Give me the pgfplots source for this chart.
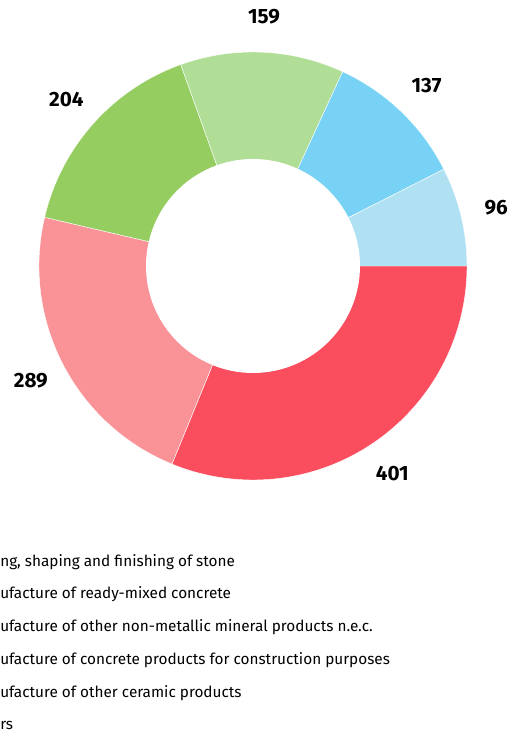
\documentclass[border=0pt]{standalone}
\usepackage{pgfplots}
\pgfplotsset{compat=1.18}
\usepackage{fontspec}
\setmainfont{Fira Sans}

\definecolor{cRed}{RGB}{250,77,94}
\definecolor{cPink}{RGB}{250,147,151}
\definecolor{cGreen}{RGB}{149,205,97}
\definecolor{cLGreen}{RGB}{177,222,150}
\definecolor{cBlue}{RGB}{120,210,245}
\definecolor{cLBlue}{RGB}{175,225,243}

% values, clockwise from 3 o'clock
\def\slices{401/cRed,289/cPink,204/cGreen,159/cLGreen,137/cBlue,96/cLBlue}
\newcommand\labfont{\fontsize{15.5pt}{17pt}\selectfont\bfseries}
\newcommand\legfont{\fontsize{11.5pt}{13pt}\selectfont}

\begin{document}
\begin{tikzpicture}
\path[use as bounding box, clip] (0,0) rectangle (381.75pt,549.75pt);

\gdef\total{0}
\foreach \v/\c in \slices {\pgfmathsetmacro\t{\total+\v}\xdef\total{\t}}

\begin{axis}[x=0.75pt, y=0.75pt, xmin=0, xmax=509, ymin=0, ymax=733,
  hide axis, clip=false, anchor=origin, at={(0,0)}]
\gdef\cum{0}
\foreach \v/\c in \slices {
  \pgfmathsetmacro\sa{-360*(\cum/\total)}
  \pgfmathsetmacro\ea{-360*((\cum+\v)/\total)}
  \pgfmathsetmacro\ma{(\sa+\ea)/2}
  \pgfmathsetmacro\lx{253+250*cos(\ma)}
  \pgfmathsetmacro\ly{467+250*sin(\ma)}
  \edef\tmp{\noexpand\fill[\c, draw=white, line width=0.3pt] (axis cs:253,467) -- ++(\sa:160.5pt)
      arc[start angle=\sa, end angle=\ea, radius=160.5pt] -- cycle;
    \noexpand\node[font=\noexpand\labfont] at (axis cs:\lx,\ly) {\v};}
  \tmp
  \pgfmathsetmacro\newcum{\cum+\v}
  \xdef\cum{\newcum}
}
\fill[white] (axis cs:253,467) circle[radius=80.25pt];
\end{axis}

% legend (its markers lie left of the visible area)
\foreach \y/\t in {567/{\llap{Cutti}ng, shaping and finishing of stone},
                   599/{\llap{Man}ufacture of ready-mixed concrete},
                   632/{\llap{Man}ufacture of other non-metallic mineral products n.e.c.},
                   665/{\llap{Man}ufacture of concrete products for construction purposes},
                   697/{\llap{Man}ufacture of other ceramic products},
                   730/{\llap{Othe}rs}} {
  \node[anchor=base west, inner sep=0pt, font=\legfont] at (0pt,{(733-\y)*0.75pt}) {\t};
}
\end{tikzpicture}
\end{document}
